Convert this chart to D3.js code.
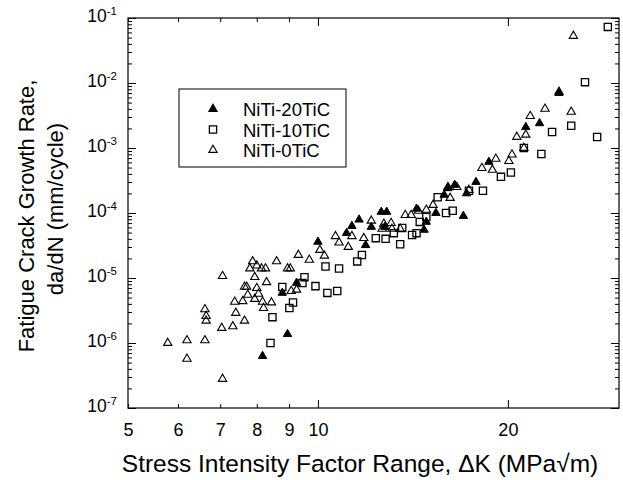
<!DOCTYPE html>
<html>

<head>
    <title>Fatigue Crack Growth Rate</title>
    <meta charset="utf-8">
    <script src="https://d3js.org/d3.v7.min.js"></script>
    <style>
        body { margin: 0; background: #fff; }
        svg text { font-family: "Liberation Sans", Arial, Helvetica, sans-serif; fill: #000; }
    </style>
</head>

<body>
<div id="chart"></div>
<script>
    // each point: [stress intensity factor range dK (MPa√m), da/dN (mm/cycle)]
    const niti20TiC = [
        [8.17, 6.3e-7], [8.95, 1.37e-6], [8.78, 5.9e-6], [9.25, 8.4e-6],
        [10.0, 3.6e-5], [11.1, 4.9e-5], [11.32, 6.3e-5], [11.62, 7.9e-5],
        [11.9, 3.2e-5], [12.15, 6.1e-5], [12.6, 1.04e-4], [12.85, 1.04e-4],
        [12.76, 6.1e-5], [14.33, 1.16e-4], [14.73, 5.5e-5], [14.85, 7.3e-5],
        [15.38, 1.0e-4], [17.0, 9.0e-5], [15.85, 1.9e-4], [16.07, 2.4e-4],
        [16.47, 2.7e-4], [17.2, 2.0e-4], [17.8, 3.0e-4], [18.66, 6.1e-4],
        [21.35, 2.1e-3], [22.45, 2.4e-3], [24.1, 7.0e-3]
    ];

    const niti10TiC = [
        [8.41, 1.0e-6], [8.47, 2.5e-6], [8.78, 7.3e-6], [9.01, 3.45e-6],
        [9.13, 4.2e-6], [9.45, 8.4e-6], [9.52, 1.03e-5], [9.91, 7.5e-6],
        [10.35, 5.9e-6], [10.73, 6.3e-6], [10.28, 1.5e-5], [10.8, 1.4e-5],
        [11.54, 1.8e-5], [11.74, 2.26e-5], [12.35, 4.1e-5], [12.8, 4.0e-5],
        [13.19, 4.9e-5], [13.6, 5.9e-5], [13.5, 3.3e-5], [14.1, 4.6e-5],
        [14.33, 4.9e-5], [14.5, 7.3e-5], [14.85, 8.7e-5], [15.48, 1.75e-4],
        [15.96, 1.0e-4], [16.35, 1.08e-4], [17.35, 2.2e-4], [18.26, 2.2e-4],
        [19.5, 3.6e-4], [20.22, 4.2e-4], [21.2, 1.0e-3], [22.6, 8.1e-4],
        [23.5, 1.76e-3], [25.2, 2.2e-3], [27.7, 1.48e-3], [26.5, 1.03e-2],
        [28.8, 7.3e-2]
    ];

    const niti0TiC = [
        [5.78, 1.0e-6], [6.2, 1.1e-6], [6.62, 1.1e-6], [6.2, 5.7e-7],
        [6.62, 3.3e-6], [6.65, 2.6e-6], [6.65, 2.2e-6], [7.06, 1.07e-5],
        [7.04, 1.7e-6], [7.33, 1.8e-6], [7.38, 4.3e-6], [7.6, 4.4e-6],
        [7.41, 2.9e-6], [7.65, 2.2e-6], [7.06, 2.8e-7], [7.65, 7.3e-6],
        [7.88, 1.8e-5], [7.8, 1.4e-5], [8.0, 1.55e-5], [8.14, 1.4e-5],
        [8.26, 1.4e-5], [7.94, 1.03e-5], [8.29, 8.6e-6], [8.6, 1.8e-5],
        [8.95, 1.4e-5], [9.04, 1.4e-5], [9.31, 2.26e-5], [9.69, 1.9e-5],
        [7.71, 7.3e-6], [8.0, 7.0e-6], [7.74, 5.5e-6], [8.05, 5.7e-6],
        [7.94, 4.75e-6], [8.17, 4.3e-6], [8.44, 4.2e-6], [8.2, 3.45e-6],
        [9.07, 6.3e-6], [9.25, 6.6e-6], [10.07, 2.7e-5], [10.24, 2.2e-5],
        [10.66, 4.4e-5], [10.8, 3.5e-5], [11.17, 3.0e-5], [11.32, 4.4e-5],
        [11.82, 4.1e-5], [12.15, 7.6e-5], [12.72, 6.8e-5], [13.06, 7.0e-5],
        [12.64, 5.7e-5], [13.1, 5.7e-5], [13.5, 5.7e-5], [13.75, 9.3e-5],
        [14.05, 9.3e-5], [14.43, 1.08e-4], [14.85, 1.12e-4], [15.22, 1.33e-4],
        [16.2, 1.7e-4], [16.07, 2.5e-4], [16.6, 2.5e-4], [17.35, 2.26e-4],
        [18.19, 4.9e-4], [18.9, 4.6e-4], [19.14, 6.8e-4], [20.07, 6.3e-4],
        [20.3, 7.9e-4], [21.2, 1.0e-3], [20.66, 1.48e-3], [21.35, 1.6e-3],
        [21.7, 3.1e-3], [22.9, 4.0e-3], [25.2, 3.6e-3], [24.1, 7.3e-3],
        [25.4, 5.3e-2]
    ];

    const seriesNames = ["NiTi-20TiC", "NiTi-10TiC", "NiTi-0TiC"];
    const xTickValues = [5, 6, 7, 8, 9, 10, 20];
    const xMajorTicks = [10, 20];
    const yExponents = [-7, -6, -5, -4, -3, -2, -1];

    const margin = { top: 18, right: 4, bottom: 72, left: 128 },
        width = 623 - margin.left - margin.right,
        height = 480 - margin.top - margin.bottom;

    const svg = d3.select("#chart").append("svg")
        .attr("width", 623)
        .attr("height", 480);

    const g = svg.append("g")
        .attr("transform", "translate(" + margin.left + "," + margin.top + ")");

    const x = d3.scaleLog().domain([5, 30]).range([0, width]);
    const y = d3.scaleLog().domain([1e-7, 1e-1]).range([height, 0]);

    // y ticks: decades plus 2..9 minor ticks
    const yAllTicks = [];
    yExponents.forEach(function (e) {
        for (let m = 1; m < 10; m++) {
            if (e < -1 || m === 1) yAllTicks.push(m * Math.pow(10, e));
        }
    });
    const isDecade = d => Math.abs(Math.log10(d) - Math.round(Math.log10(d))) < 1e-6;

    // bottom axis with labels
    const xBottom = g.append("g")
        .attr("transform", "translate(0," + height + ")")
        .call(d3.axisBottom(x).tickValues(xTickValues).tickSizeInner(-4).tickSizeOuter(0)
            .tickPadding(15).tickFormat(d3.format("d")));
    xBottom.selectAll(".tick line")
        .attr("y2", d => xMajorTicks.includes(d) ? -8 : -4);
    xBottom.selectAll(".tick text").style("font-size", "18px");

    // top axis, ticks only
    const xTop = g.append("g")
        .call(d3.axisTop(x).tickValues(xTickValues).tickSizeInner(-4).tickSizeOuter(0).tickFormat(""));
    xTop.selectAll(".tick line")
        .attr("y2", d => xMajorTicks.includes(d) ? 8 : 4);

    // left axis
    const yLeft = g.append("g")
        .call(d3.axisLeft(y).tickValues(yAllTicks).tickSizeInner(-4).tickSizeOuter(0).tickFormat(""));
    yLeft.selectAll(".tick line")
        .attr("x2", d => isDecade(d) ? 8 : 4);
    yLeft.selectAll(".tick")
        .filter(d => isDecade(d))
        .append("text")
        .attr("x", -11)
        .attr("dy", "0.36em")
        .attr("text-anchor", "end")
        .each(function (d) {
            const t = d3.select(this);
            t.append("tspan").style("font-size", "17.5px").text("10");
            t.append("tspan").attr("dy", "-7").style("font-size", "11.5px")
                .text(Math.round(Math.log10(d)));
        });

    // right axis, ticks only
    const yRight = g.append("g")
        .attr("transform", "translate(" + width + ",0)")
        .call(d3.axisRight(y).tickValues(yAllTicks).tickSizeInner(-4).tickSizeOuter(0).tickFormat(""));
    yRight.selectAll(".tick line")
        .attr("x2", d => isDecade(d) ? -8 : -4);

    g.selectAll(".domain").remove();

    // frame
    g.append("rect")
        .attr("width", width)
        .attr("height", height)
        .attr("fill", "none")
        .attr("stroke", "#000")
        .attr("stroke-width", 1.2);

    const triangle = d3.symbol(d3.symbolTriangle, 30);
    const square = d3.symbol(d3.symbolSquare, 52);

    // squares first, then open triangles, filled on top
    g.selectAll(".sq")
        .data(niti10TiC)
        .enter()
        .append("path")
        .attr("class", "sq")
        .attr("d", square)
        .attr("transform", d => "translate(" + x(d[0]) + "," + y(d[1]) + ")")
        .attr("fill", "none")
        .attr("stroke", "#000")
        .attr("stroke-width", 1.3);

    g.selectAll(".open-tri")
        .data(niti0TiC)
        .enter()
        .append("path")
        .attr("class", "open-tri")
        .attr("d", triangle)
        .attr("transform", d => "translate(" + x(d[0]) + "," + y(d[1]) + ")")
        .attr("fill", "none")
        .attr("stroke", "#000")
        .attr("stroke-width", 1.1);

    g.selectAll(".filled-tri")
        .data(niti20TiC)
        .enter()
        .append("path")
        .attr("class", "filled-tri")
        .attr("d", triangle)
        .attr("transform", d => "translate(" + x(d[0]) + "," + y(d[1]) + ")")
        .attr("fill", "#000")
        .attr("stroke", "#000")
        .attr("stroke-width", 1);

    // legend
    const legend = g.append("g").attr("transform", "translate(51,71)");
    legend.append("rect")
        .attr("width", 167)
        .attr("height", 78)
        .attr("fill", "#fff")
        .attr("stroke", "#000")
        .attr("stroke-width", 1);

    const legendItems = legend.selectAll(".item")
        .data(seriesNames)
        .enter()
        .append("g")
        .attr("class", "item")
        .attr("transform", (d, i) => "translate(0," + (20 + i * 20.5) + ")");

    legendItems.append("path")
        .attr("transform", "translate(34,0)")
        .attr("d", (d, i) => i === 1 ? square() : triangle())
        .attr("fill", (d, i) => i === 0 ? "#000" : "none")
        .attr("stroke", "#000")
        .attr("stroke-width", (d, i) => i === 1 ? 1.3 : 1.1);

    legendItems.append("text")
        .attr("x", 64)
        .attr("y", 7)
        .style("font-size", "18.5px")
        .text(d => d);

    // axis titles
    svg.append("text")
        .attr("text-anchor", "middle")
        .attr("transform", "translate(360,472)")
        .style("font-size", "24.5px")
        .text("Stress Intensity Factor Range, \u0394K (MPa\u221Am)");

    svg.append("text")
        .attr("text-anchor", "middle")
        .attr("transform", "translate(34,216) rotate(-90)")
        .style("font-size", "22px")
        .text("Fatigue Crack Growth Rate,");

    svg.append("text")
        .attr("text-anchor", "middle")
        .attr("transform", "translate(63,209) rotate(-90)")
        .style("font-size", "22px")
        .text("da/dN (mm/cycle)");
</script>
</body>

</html>
